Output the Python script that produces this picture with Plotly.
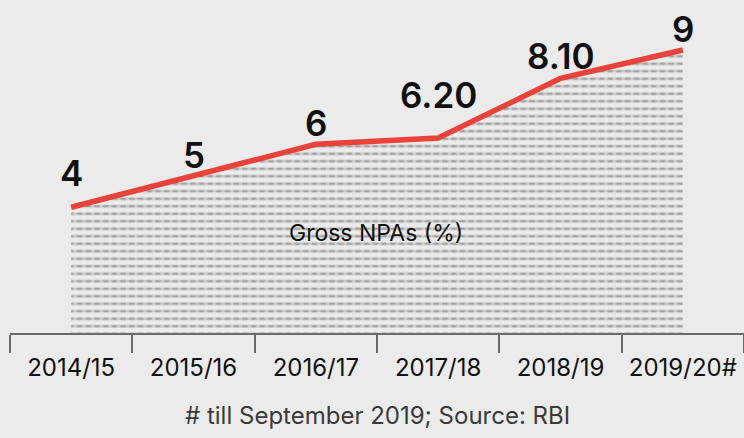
import plotly.graph_objects as go

# Gross NPAs (%) by financial year
years = ["2014/15", "2015/16", "2016/17", "2017/18", "2018/19", "2019/20#"]
npa = [4, 5, 6, 6.2, 8.1, 9]
npa_labels = ["4", "5", "6", "6.20", "8.10", "9"]

# pixel lift of each value label above its point
label_lift = [11, -2, -2, 20, -1, -2]

BG = "#ebebeb"
RED = "#e8423a"
FONT = "Inter, Roboto, sans-serif"

fig = go.Figure()

# dashed-row hatching under the line: horizontal rules...
fig.add_trace(go.Scatter(
    x=years, y=npa, mode="none", fill="tozeroy",
    fillcolor="rgba(0,0,0,0)",
    fillpattern=dict(shape="-", fgcolor="#585858", bgcolor="rgba(0,0,0,0)",
                     size=7.5, solidity=0.34),
    hoverinfo="skip", showlegend=False,
))
# ...broken into short dashes by background-coloured vertical gaps
fig.add_trace(go.Scatter(
    x=years, y=npa, mode="none", fill="tozeroy",
    fillcolor="rgba(0,0,0,0)",
    fillpattern=dict(shape="|", fgcolor=BG, bgcolor="rgba(0,0,0,0)",
                     size=8.7, solidity=0.42),
    hoverinfo="skip", showlegend=False,
))

# the trend line
fig.add_trace(go.Scatter(
    x=years, y=npa, mode="lines",
    line=dict(color=RED, width=5.5),
    showlegend=False,
))

# value labels above each point
for yr, v, lab, lift in zip(years, npa, npa_labels, label_lift):
    fig.add_annotation(
        x=yr, y=v, text=lab, showarrow=False,
        yanchor="bottom", yshift=lift,
        font=dict(family=FONT, size=35, color="#111111", weight=600),
    )

fig.add_annotation(
    x=0.498, y=0.30, xref="paper", yref="paper", yanchor="middle",
    text="Gross NPAs (%)", showarrow=False,
    font=dict(family=FONT, size=23, color="#111111"),
)

fig.add_annotation(
    x=0.5, y=-0.249, xref="paper", yref="paper", yanchor="middle",
    text="# till September 2019; Source: RBI", showarrow=False,
    font=dict(family=FONT, size=24, color="#3a3a3a"),
)

fig.update_xaxes(
    type="category", range=[-0.5, 5.5],
    showline=True, linecolor="#6a6a6a", linewidth=1.5,
    ticks="outside", tickson="boundaries", ticklen=18, tickwidth=1.5, tickcolor="#6a6a6a",
    showgrid=False, zeroline=False,
    tickfont=dict(family=FONT, size=24, color="#111111"),
    ticklabelstandoff=12,
)
fig.update_yaxes(range=[0, 10.59], visible=False, showgrid=False, zeroline=False)

fig.update_layout(
    width=744, height=438,
    margin=dict(l=10, r=0, t=0, b=105),
    paper_bgcolor=BG, plot_bgcolor=BG,
    showlegend=False,
)

fig.write_html("out.html")
